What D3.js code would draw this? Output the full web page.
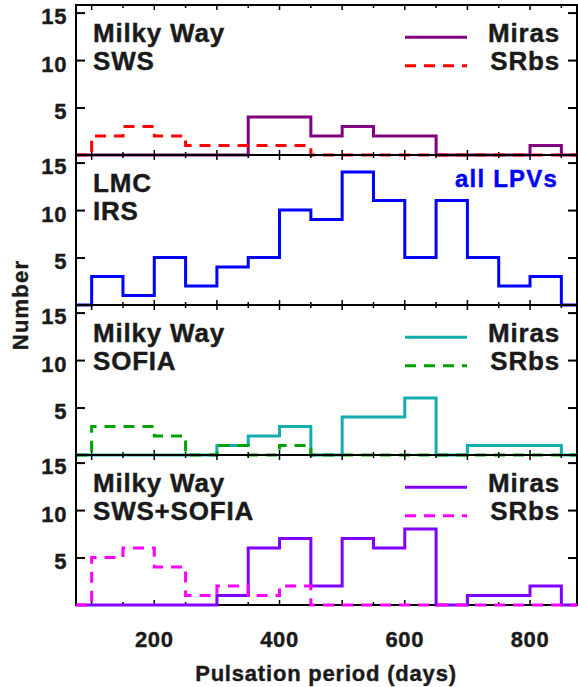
<!DOCTYPE html>
<html>
<head>
<meta charset="utf-8">
<script src="https://cdn.jsdelivr.net/npm/d3@7"></script>
<style>
  body { margin: 0; background: #fff; }
  text { font-family: "Liberation Sans", Arial, sans-serif; font-weight: bold; fill: #1a1a1a; stroke: #1a1a1a; stroke-width: 0.4px; }
</style>
</head>
<body>
<div id="visualisation"></div>
<script>
// bin starts (days), 50-day bins
var binStarts = [100, 150, 200, 250, 300, 350, 400, 450, 500, 550, 600, 650, 700, 750, 800, 850];

// Milky Way SWS
var swsMiras = [0, 0, 0, 0, 0, 4, 4, 2, 3, 2, 2, 0, 0, 0, 1, 0];
var swsSRbs  = [2, 3, 2, 1, 1, 1, 1, 0, 0, 0, 0, 0, 0, 0, 0, 0];
// LMC IRS
var lmcAll   = [3, 1, 5, 2, 4, 5, 10, 9, 14, 11, 5, 11, 5, 2, 3, 0];
// Milky Way SOFIA
var sofiaMiras = [0, 0, 0, 0, 1, 2, 3, 0, 4, 4, 6, 0, 1, 1, 1, 0];
var sofiaSRbs  = [3, 3, 2, 0, 1, 0, 1, 0, 0, 0, 0, 0, 0, 0, 0, 0];
// Milky Way SWS+SOFIA
var bothMiras = [0, 0, 0, 0, 1, 6, 7, 2, 7, 6, 8, 0, 1, 1, 2, 0];
var bothSRbs  = [5, 6, 4, 1, 2, 1, 2, 0, 0, 0, 0, 0, 0, 0, 0, 0];

var xTickLabels = [200, 400, 600, 800];
var yTickLabels = [5, 10, 15];

var panels = [
  {title: ["Milky Way", "SWS"], series: [
    {name: "Miras", vals: swsMiras, color: "#800080", dash: null},
    {name: "SRbs", vals: swsSRbs, color: "#ff0000", dash: "11,8"}]},
  {title: ["LMC", "IRS"], note: "all LPVs", series: [
    {name: "all LPVs", vals: lmcAll, color: "#0000ff", dash: null}]},
  {title: ["Milky Way", "SOFIA"], series: [
    {name: "Miras", vals: sofiaMiras, color: "#14adad", dash: null},
    {name: "SRbs", vals: sofiaSRbs, color: "#00a000", dash: "11,8"}]},
  {title: ["Milky Way", "SWS+SOFIA"], series: [
    {name: "Miras", vals: bothMiras, color: "#8000ff", dash: null},
    {name: "SRbs", vals: bothSRbs, color: "#ff00ff", dash: "11,8"}]}
];

var svg = d3.select("#visualisation")
    .append("svg")
    .attr("width", 578)
    .attr("height", 687);

var left = 76, right = 577, top0 = 5, ph = 150;

var x = d3.scaleLinear().domain([75, 875]).range([left, right]);
var y = d3.scaleLinear().domain([0, 15.8]).range([ph, 0]);

var line = d3.line()
    .x(function(d){ return x(d[0]); })
    .y(function(d){ return y(d[1]); })
    .curve(d3.curveStepAfter);

function stepPoints(vals)
{
  var pts = [[75, 0]];
  for (var i = 0; i < binStarts.length; i++) pts.push([binStarts[i], vals[i]]);
  pts.push([875, vals[vals.length - 1]]);
  return pts;
}

var minorTicks = d3.range(100, 875, 50);

panels.forEach(function(p, k)
{
  var g = svg.append("g").attr("transform", "translate(0," + (top0 + k * ph) + ")");

  // y axes
  g.append("g")
    .attr("transform", "translate(" + left + ",0)")
    .call(d3.axisLeft(y).tickValues(yTickLabels).tickSize(-9).tickPadding(9))
    .call(function(a){
      a.select(".domain").remove();
      a.selectAll("line").attr("stroke", "#000").attr("stroke-width", 2);
      a.selectAll("text").attr("font-size", 22).attr("dy", "0.5em")
        .style("letter-spacing", "0.6px").attr("fill", null)
        .attr("font-family", null);
    });
  g.append("g")
    .attr("transform", "translate(" + right + ",0)")
    .call(d3.axisRight(y).tickValues(yTickLabels).tickSize(-9).tickFormat(""))
    .call(function(a){
      a.select(".domain").remove();
      a.selectAll("line").attr("stroke", "#000").attr("stroke-width", 2);
    });

  // x ticks, top and bottom, inward
  g.selectAll(".xt-b").data(minorTicks).enter().append("line")
    .attr("x1", function(d){ return x(d); }).attr("x2", function(d){ return x(d); })
    .attr("y1", ph).attr("y2", function(d){ return ph - (d % 100 == 0 ? 5 : 3); })
    .attr("stroke", "#000").attr("stroke-width", 1.5);
  g.selectAll(".xt-t").data(minorTicks).enter().append("line")
    .attr("x1", function(d){ return x(d); }).attr("x2", function(d){ return x(d); })
    .attr("y1", 0).attr("y2", function(d){ return (d % 100 == 0 ? 5 : 3); })
    .attr("stroke", "#000").attr("stroke-width", 1.5);

  // frame
  g.append("rect")
    .attr("x", left).attr("y", 0)
    .attr("width", right - left).attr("height", ph)
    .attr("fill", "none").attr("stroke", "#000").attr("stroke-width", 2);

  // histograms
  p.series.forEach(function(s)
  {
    g.append("path")
      .attr("d", line(stepPoints(s.vals)))
      .attr("fill", "none")
      .attr("stroke", s.color)
      .attr("stroke-width", 3)
      .attr("stroke-dasharray", s.dash);
  });

  // title
  p.title.forEach(function(t, i)
  {
    g.append("text")
      .attr("x", 93).attr("y", 36.7 + i * 28.3)
      .attr("font-size", 26)
      .style("letter-spacing", "0.8px")
      .text(t);
  });

  // legend
  if (p.note)
  {
    g.append("text")
      .attr("x", 558).attr("y", 32.3)
      .attr("text-anchor", "end")
      .attr("font-size", 24)
      .style("letter-spacing", "1.2px")
      .style("fill", p.series[0].color)
      .style("stroke", p.series[0].color)
      .text(p.note);
  }
  else
  {
    p.series.forEach(function(s, i)
    {
      g.append("line")
        .attr("x1", 405).attr("x2", 467)
        .attr("y1", 32.3 + i * 28.4).attr("y2", 32.3 + i * 28.4)
        .attr("stroke", s.color).attr("stroke-width", 3)
        .attr("stroke-dasharray", s.dash);
      g.append("text")
        .attr("x", 560).attr("y", 36.7 + i * 28.3)
        .attr("text-anchor", "end")
        .attr("font-size", 26)
        .style("letter-spacing", "0.8px")
        .text(s.name);
    });
  }
});

// x tick labels
svg.selectAll(".xl").data(xTickLabels).enter().append("text")
  .attr("x", function(d){ return x(d); })
  .attr("y", 646.7)
  .attr("text-anchor", "middle")
  .attr("font-size", 22)
  .style("letter-spacing", "0.6px")
  .text(function(d){ return d; });

svg.append("text")
  .attr("x", 326).attr("y", 680.5)
  .attr("text-anchor", "middle")
  .attr("font-size", 22)
  .style("letter-spacing", "0.8px")
  .text("Pulsation period (days)");

svg.append("text")
  .attr("transform", "translate(28,305) rotate(-90)")
  .attr("text-anchor", "middle")
  .attr("font-size", 22)
  .style("letter-spacing", "1.2px")
  .text("Number");
</script>
</body>
</html>
